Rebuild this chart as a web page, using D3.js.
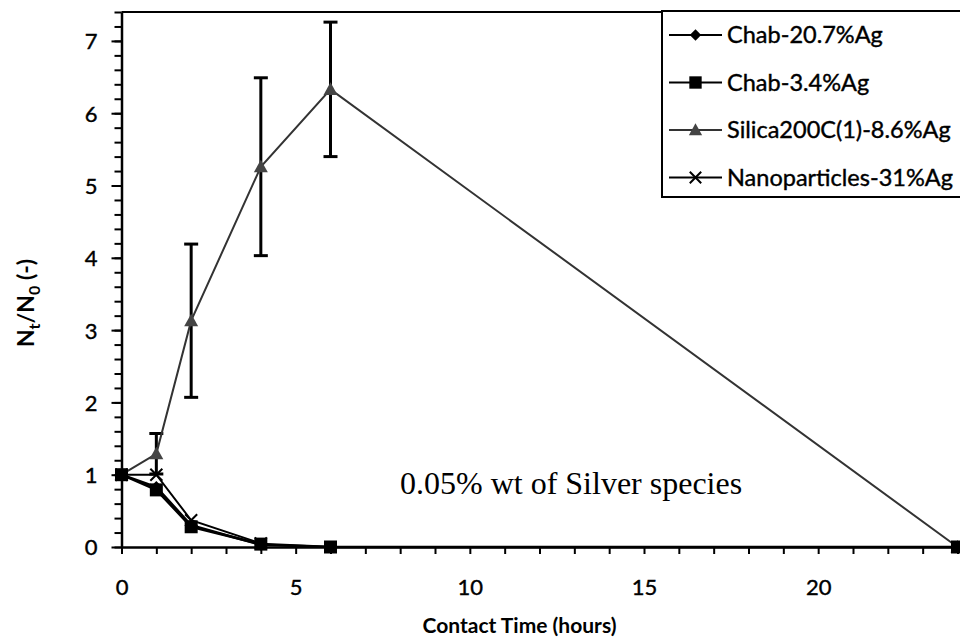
<!DOCTYPE html>
<html>
<head>
<meta charset="utf-8">
<script src="https://cdn.jsdelivr.net/npm/d3@7/dist/d3.min.js"></script>
<style>
  html, body { margin: 0; padding: 0; background: #fff; }
  svg { display: block; }
  text { font-family: Lato, "Open Sans", sans-serif; }
</style>
</head>
<body>
<svg id="chart" width="960" height="639"></svg>
<script>
// Contact time (hours) at which each sample was taken
const timeChab20 = [0, 1, 2, 4, 6];
const chab20 = [1.0, 0.83, 0.30, 0.03, 0.0];

const timeChab3 = [0, 1, 2, 4, 6, 24];
const chab3 = [1.0, 0.79, 0.28, 0.04, 0.0, 0.0];

const timeSilica = [0, 1, 2, 4, 6, 24];
const silica = [1.0, 1.29, 3.13, 5.26, 6.33, 0.0];
const silicaErr = [0, 0.28, 1.06, 1.23, 0.93, 0];

const timeNano = [0, 1, 2, 4];
const nano = [1.0, 1.0, 0.37, 0.05];

const seriesNames = ["Chab-20.7%Ag", "Chab-3.4%Ag", "Silica200C(1)-8.6%Ag", "Nanoparticles-31%Ag"];
const xTickLabels = [0, 5, 10, 15, 20];
const yTickLabels = [0, 1, 2, 3, 4, 5, 6, 7];
const annotation = "0.05% wt of Silver species";

const svg = d3.select("#chart");

const x = d3.scaleLinear().domain([0, 24]).range([121.5, 957.5]);
const y = d3.scaleLinear().domain([0, 7.4]).range([547, 12]);

const series = [
  { name: seriesNames[0], t: timeChab20, v: chab20, marker: "diamond", color: "#000", stroke: 2.5 },
  { name: seriesNames[1], t: timeChab3, v: chab3, marker: "square", color: "#000", stroke: 2.5 },
  { name: seriesNames[2], t: timeSilica, v: silica, err: silicaErr, marker: "triangle", color: "#333", stroke: 2 },
  { name: seriesNames[3], t: timeNano, v: nano, marker: "cross", color: "#000", stroke: 2 }
];

// Plot frame: top edge
svg.append("line")
  .attr("x1", x(0)).attr("x2", 960)
  .attr("y1", y(7.4)).attr("y2", y(7.4))
  .attr("stroke", "#000").attr("stroke-width", 2);

// Y axis with 0.2 minor ticks
const yMinor = d3.range(0, 7.41, 0.2).map(d => +d.toFixed(1));
svg.append("g")
  .attr("transform", `translate(${x(0)},0)`)
  .call(d3.axisLeft(y).tickValues(yMinor).tickSize(7).tickFormat(""))
  .call(g => g.select(".domain").remove())
  .call(g => g.selectAll("line").attr("stroke-width", 2));
const yAxis = svg.append("g")
  .attr("transform", `translate(${x(0)},0)`)
  .call(d3.axisLeft(y).tickValues(yTickLabels).tickSize(10).tickPadding(14).tickSizeOuter(0));
yAxis.select(".domain").attr("stroke-width", 2.5);
yAxis.selectAll("line").attr("stroke-width", 2);
yAxis.selectAll("text").attr("font-size", 22).attr("fill", "#000")
  .attr("stroke", "#000").attr("stroke-width", 0.4)
  .style("font-family", "Lato, sans-serif").attr("dy", "0.36em");

// X axis, one tick per hour
const xAxis = svg.append("g")
  .attr("transform", `translate(0,${y(0)})`)
  .call(d3.axisBottom(x).tickValues(d3.range(0, 25, 1)).tickSize(7).tickSizeOuter(0)
    .tickFormat(d => xTickLabels.includes(d) ? d : ""));
xAxis.select(".domain").attr("stroke-width", 2.5);
xAxis.selectAll("line").attr("stroke-width", 2);
xAxis.selectAll("text").attr("font-size", 22).attr("fill", "#000")
  .attr("stroke", "#000").attr("stroke-width", 0.4)
  .attr("y", 32).style("font-family", "Lato, sans-serif");

// Axis titles
svg.append("text")
  .attr("x", x(12) - 20).attr("y", 633)
  .attr("text-anchor", "middle")
  .attr("font-size", 21).attr("font-weight", "bold")
  .text("Contact Time (hours)");

const yTitle = svg.append("text")
  .attr("transform", "translate(34,303) rotate(-90)")
  .attr("text-anchor", "middle")
  .attr("font-size", 23).attr("font-weight", "bold");
yTitle.append("tspan").text("N");
yTitle.append("tspan").attr("font-size", 16).attr("dy", 6).text("t");
yTitle.append("tspan").attr("dy", -6).text("/N");
yTitle.append("tspan").attr("font-size", 16).attr("dy", 6).text("0");
yTitle.append("tspan").attr("dy", -6).text(" (-)");

// Annotation inside the plot
svg.append("text")
  .attr("x", 400).attr("y", 494)
  .style("font-family", "'Liberation Serif', 'Times New Roman', serif")
  .attr("font-size", 32)
  .text(annotation);

// Marker drawing helper
function drawMarker(g, type, cx, cy, color, scale = 1) {
  if (type === "diamond") {
    const s = 6 * scale;
    g.append("path").attr("d", `M${cx},${cy - s}L${cx + s},${cy}L${cx},${cy + s}L${cx - s},${cy}Z`).attr("fill", color);
  } else if (type === "square") {
    const s = 6.5 * scale;
    g.append("rect").attr("x", cx - s).attr("y", cy - s).attr("width", 2 * s).attr("height", 2 * s).attr("fill", color);
  } else if (type === "triangle") {
    const s = 7 * scale;
    g.append("path").attr("d", `M${cx},${cy - s}L${cx + s},${cy + s * 0.8}L${cx - s},${cy + s * 0.8}Z`).attr("fill", "#444");
  } else if (type === "cross") {
    const s = 6 * scale;
    g.append("path").attr("d", `M${cx - s},${cy - s}L${cx + s},${cy + s}M${cx - s},${cy + s}L${cx + s},${cy - s}`)
      .attr("stroke", color).attr("stroke-width", 2).attr("fill", "none");
  }
}

const line = d3.line().x(d => x(d[0])).y(d => y(d[1]));
const plot = svg.append("g");

// Error bars for the silica series
const silicaSeries = series[2];
silicaSeries.t.forEach((t, i) => {
  const e = silicaSeries.err[i];
  if (!e) return;
  const cx = x(t);
  plot.append("line").attr("x1", cx).attr("x2", cx).attr("y1", y(silicaSeries.v[i] - e)).attr("y2", y(silicaSeries.v[i] + e))
    .attr("stroke", "#000").attr("stroke-width", 3);
  [silicaSeries.v[i] - e, silicaSeries.v[i] + e].forEach(v => {
    plot.append("line").attr("x1", cx - 7).attr("x2", cx + 7).attr("y1", y(v)).attr("y2", y(v))
      .attr("stroke", "#000").attr("stroke-width", 3);
  });
});

// Series lines and markers
[series[2], series[3], series[0], series[1]].forEach(s => {
  const pts = s.t.map((t, i) => [t, s.v[i]]);
  plot.append("path").datum(pts).attr("d", line)
    .attr("fill", "none").attr("stroke", s.color).attr("stroke-width", s.stroke);
  pts.forEach(p => drawMarker(plot, s.marker, x(p[0]), y(p[1]), s.color));
});

// Legend
const legend = svg.append("g");
legend.append("rect")
  .attr("x", 662).attr("y", 11).attr("width", 320).attr("height", 186)
  .attr("fill", "#fff").attr("stroke", "#000").attr("stroke-width", 2);
series.forEach((s, i) => {
  const ly = 35 + i * 47.5;
  legend.append("line").attr("x1", 669).attr("x2", 722).attr("y1", ly).attr("y2", ly)
    .attr("stroke", s.color).attr("stroke-width", 2);
  drawMarker(legend, s.marker, 695.5, ly, s.color, 0.95);
  legend.append("text").attr("x", 727).attr("y", ly).attr("dy", "0.35em")
    .attr("font-size", 23.5).attr("fill", "#000")
    .attr("stroke", "#000").attr("stroke-width", 0.4)
    .text(s.name);
});
</script>
</body>
</html>
